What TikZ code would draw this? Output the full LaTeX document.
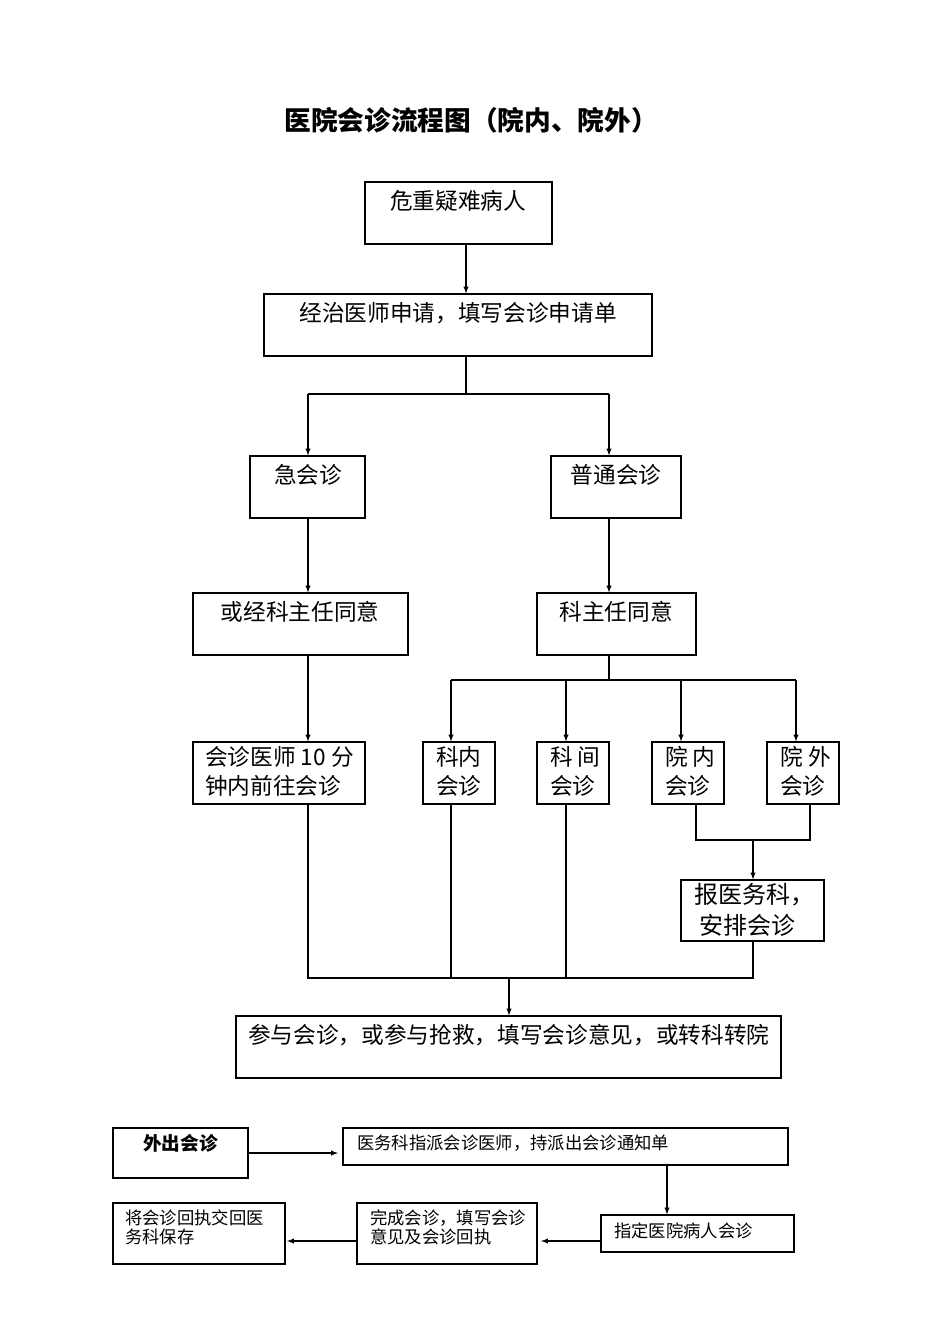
\documentclass[tikz,border=0pt]{standalone}
\usepackage{fontspec}
\setmainfont{Liberation Serif}
\newfontfamily\cjk{Noto Sans CJK SC}
\usetikzlibrary{fit}
\begin{document}
\begin{tikzpicture}[x=0.75pt,y=-0.75pt,
  box/.style={draw,line width=0.8pt,inner sep=0pt},
  txt/.style={font=\cjk\fontsize{17}{22}\selectfont,align=left,inner sep=0pt,anchor=north},
  sm/.style={font=\cjk\fontsize{13}{14}\selectfont,align=left,inner sep=0pt,anchor=north west},
  ln/.style={line width=0.8pt},
  ar/.style={line width=0.8pt,-latex}]
\useasboundingbox (0,0) rectangle (950,1344);
\node[font=\cjk\bfseries\fontsize{20}{24}\selectfont] (title) at (471,120) {医院会诊流程图（院内、院外）};
\newcommand{\bx}[5]{\node[box,fit={(#2,#3)(#4,#5)}] (#1) {};}
\bx{A}{365}{182}{552}{244}
\bx{B}{264}{294}{652}{356}
\bx{C}{250}{456}{365}{518}
\bx{D}{551}{456}{681}{518}
\bx{E}{193}{593}{408}{655}
\bx{F}{537}{593}{696}{655}
\bx{G}{193}{742}{365}{804}
\bx{H}{423}{742}{495}{804}
\bx{I}{537}{742}{609}{804}
\bx{J}{652}{742}{724}{804}
\bx{K}{767}{742}{839}{804}
\bx{L}{681}{880}{824}{941}
\bx{M}{236}{1016}{781}{1078}
\bx{N}{113}{1128}{248}{1178}
\bx{O}{343}{1128}{788}{1165}
\bx{P}{601}{1215}{794}{1252}
\bx{Q}{357}{1203}{537}{1264}
\bx{R}{113}{1203}{285}{1264}
\node[txt] (tA) at (458,190) {危重疑难病人};
\node[txt] (tB) at (458,302) {经治医师申请，填写会诊申请单};
\node[txt] (tC) at (308,464) {急会诊};
\node[txt] (tD) at (616,464) {普通会诊};
\node[txt] (tE) at (300,601) {或经科主任同意};
\node[txt] (tF) at (616,601) {科主任同意};
\node[txt,anchor=north west] (tG) at (205,746) {会诊医师 10 分\\钟内前往会诊};
\node[txt,anchor=north west] (tH) at (436,746) {科内\\会诊};
\node[txt,anchor=north west] (tI) at (550,746) {科 间\\会诊};
\node[txt,anchor=north west] (tJ) at (665,746) {院 内\\会诊};
\node[txt,anchor=north west] (tK) at (780,746) {院 外\\会诊};
\node[txt,anchor=north west,font=\cjk\fontsize{18}{23}\selectfont] (tL) at (694,883) {报医务科，\\\ 安排会诊};
\node[txt,anchor=north west] (tM) at (248,1024) {参与会诊，或参与抢救，填写会诊意见，或转科转院};
\node[txt,anchor=north west,font=\cjk\bfseries\fontsize{14}{16}\selectfont] (tN) at (143,1134) {外出会诊};
\node[sm] (tO) at (357,1135) {医务科指派会诊医师，持派出会诊通知单};
\node[sm] (tP) at (614,1223) {指定医院病人会诊};
\node[sm] (tQ) at (370,1210) {完成会诊，填写会诊\\意见及会诊回执};
\node[sm] (tR) at (125,1210) {将会诊回执交回医\\务科保存};
\coordinate (x466) at (466,0);
\coordinate (x308) at (308,0);
\coordinate (x609) at (609,0);
\coordinate (x451) at (451,0);
\coordinate (x566) at (566,0);
\coordinate (x667) at (667,0);
\coordinate (y1153) at (0,1153);
\coordinate (y1241) at (0,1241);
\draw[ar] (A.south -| x466) -- (B.north -| x466);
\coordinate (b1) at (466,394);
\coordinate (b2) at (308,394);
\coordinate (b3) at (609,394);
\draw[ln] (B.south -| b1) -- (b1);
\draw[ln] (b2) -- (b3);
\draw[ar] (b2) -- (C.north -| b2);
\draw[ar] (b3) -- (D.north -| b3);
\draw[ar] (C.south -| x308) -- (E.north -| x308);
\draw[ar] (D.south -| x609) -- (F.north -| x609);
\draw[ar] (E.south -| x308) -- (G.north -| x308);
\coordinate (f1) at (609,680);
\coordinate (f2) at (451,680);
\coordinate (f3) at (566,680);
\coordinate (f4) at (681,680);
\coordinate (f5) at (796,680);
\draw[ln] (F.south -| f1) -- (f1);
\draw[ln] (f2) -- (f5);
\draw[ar] (f2) -- (H.north -| f2);
\draw[ar] (f3) -- (I.north -| f3);
\draw[ar] (f4) -- (J.north -| f4);
\draw[ar] (f5) -- (K.north -| f5);
\coordinate (j1) at (696,840);
\coordinate (j2) at (810,840);
\coordinate (j3) at (753,840);
\draw[ln] (J.south -| j1) -- (j1) -- (j2) -- (K.south -| j2);
\draw[ar] (j3) -- (L.north -| j3);
\coordinate (m1) at (308,978);
\coordinate (m2) at (753,978);
\coordinate (m3) at (509,978);
\coordinate (m4) at (451,978);
\coordinate (m5) at (566,978);
\draw[ln] (G.south -| m1) -- (m1) -- (m2) -- (L.south -| m2);
\draw[ln] (H.south -| m4) -- (m4);
\draw[ln] (I.south -| m5) -- (m5);
\draw[ar] (m3) -- (M.north -| m3);
\coordinate (o1) at (338,1153);
\coordinate (q1) at (541,1241);
\coordinate (r1) at (287,1241);
\draw[ar] (N.east |- y1153) -- (o1);
\draw[ar] (O.south -| x667) -- (P.north -| x667);
\draw[ar] (P.west |- y1241) -- (q1);
\draw[ar] (Q.west |- y1241) -- (r1);
\end{tikzpicture}
\end{document}
